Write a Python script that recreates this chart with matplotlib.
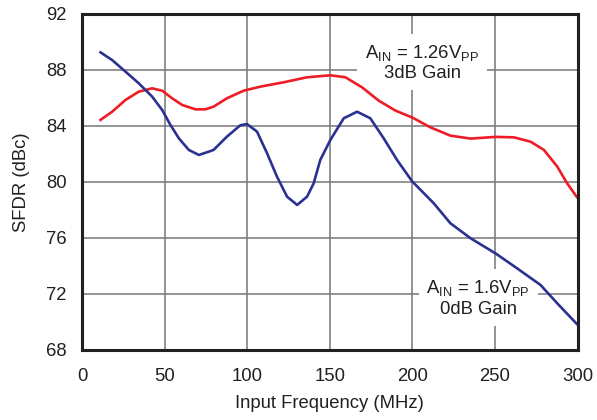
import matplotlib
matplotlib.use("Agg")
import matplotlib.pyplot as plt

plt.rcParams['font.family'] = ['Liberation Sans', 'DejaVu Sans']
plt.rcParams['mathtext.fontset'] = 'custom'
plt.rcParams['mathtext.rm'] = 'Liberation Sans'
plt.rcParams['mathtext.it'] = 'Liberation Sans'

# Data
freq_red = [10.5, 18.2, 26.3, 34.3, 42.4, 48.5, 54.5, 60.6, 68.7, 74.7, 79.6, 87.7, 97.8,
            107.9, 122, 136.2, 150.3, 159.4, 169.5, 179.6, 189.7, 200, 210.9, 223, 235.2,
            250.3, 261.4, 271.5, 279.6, 287.7, 293.7, 300]
sfdr_red = [84.38, 85.02, 85.86, 86.45, 86.69, 86.52, 85.98, 85.5, 85.19, 85.19, 85.38, 85.98, 86.52,
            86.81, 87.12, 87.48, 87.62, 87.48, 86.76, 85.81, 85.1, 84.6, 83.9, 83.31, 83.1,
            83.22, 83.19, 82.88, 82.29, 81.1, 79.9, 78.85]

freq_blue = [10.5, 18.2, 26.3, 34.3, 42.4, 48.5, 53.5, 58.6, 64.6, 70.7, 76.8, 79.6, 87.7,
             95.8, 99.8, 105.9, 112, 118, 124.1, 130.2, 136.2, 140.2, 144.2, 150.3, 158.4,
             166.5, 174.5, 182.6, 190.7, 199.8, 212.9, 223, 235.2, 250.3, 263.4, 277.6,
             287.7, 300]
sfdr_blue = [89.31, 88.71, 87.88, 87.05, 86.1, 85.14, 84.07, 83.12, 82.29, 81.93, 82.17, 82.29, 83.24,
             84.05, 84.14, 83.6, 82.05, 80.38, 78.95, 78.36, 78.95, 79.9, 81.57, 83.0, 84.55,
             85.02, 84.55, 83.12, 81.57, 80.05, 78.48, 77.05, 75.98, 74.9, 73.83, 72.64,
             71.33, 69.8]

xticks = [0, 50, 100, 150, 200, 250, 300]
yticks = [68, 72, 76, 80, 84, 88, 92]

TXT = '#231f20'
FS = 13.3
fig = plt.figure(figsize=(5.97, 4.2), dpi=100)
ax = fig.add_axes([0.1375, 0.1667, 0.830, 0.800])

ax.plot(freq_red, sfdr_red, color='#ee1c25', lw=1.9, zorder=5, solid_capstyle='butt',
        solid_joinstyle='round')
ax.plot(freq_blue, sfdr_blue, color='#2b3191', lw=1.9, zorder=5, solid_capstyle='butt',
        solid_joinstyle='round')

ax.set_xlim(0, 300)
ax.set_ylim(68, 92)
ax.set_xticks(xticks)
ax.set_yticks(yticks)
ax.grid(True, color='#777777', lw=1.1, zorder=1)
ax.set_axisbelow(True)
ax.tick_params(axis='both', length=0, labelsize=FS, colors=TXT)
ax.tick_params(axis='x', pad=13)
ax.tick_params(axis='y', pad=11)
for s in ax.spines.values():
    s.set_linewidth(2.2)
    s.set_color(TXT)
    s.set_zorder(6)

ax.set_xlabel('Input Frequency (MHz)', fontsize=FS, color=TXT, labelpad=7)
ax.set_ylabel('SFDR (dBc)', fontsize=FS, color=TXT, labelpad=12)

box = dict(boxstyle='square,pad=0.42', facecolor='white', edgecolor='none')
ax.text(205.9, 88.54, r'A$_{\rm IN}$ = 1.26V$_{\rm PP}$' + '\n3dB Gain', ha='center', va='center',
        fontsize=FS, color=TXT, bbox=box, zorder=3, linespacing=1.2)
ax.text(239.8, 71.71, r'A$_{\rm IN}$ = 1.6V$_{\rm PP}$' + '\n0dB Gain', ha='center', va='center',
        fontsize=FS, color=TXT, bbox=box, zorder=3, linespacing=1.2)

fig.savefig('out.png', dpi=100)
